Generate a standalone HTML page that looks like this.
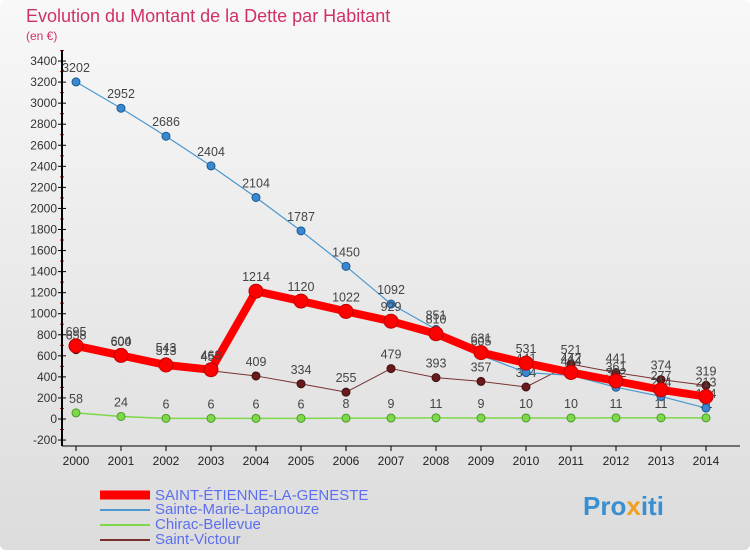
<!DOCTYPE html>
<html><head><meta charset="utf-8"><style>
body{margin:0;width:750px;height:550px;overflow:hidden;font-family:"Liberation Sans",sans-serif;}
</style></head><body>
<svg width="750" height="550" xmlns="http://www.w3.org/2000/svg">
<defs><linearGradient id="bg" x1="0" y1="0" x2="0" y2="1"><stop offset="0" stop-color="#f8f8f8"/><stop offset="1" stop-color="#dcdcdc"/></linearGradient></defs>
<rect width="750" height="550" fill="url(#bg)" rx="6"/>
<text x="26" y="22" font-size="18" fill="#d0306a">Evolution du Montant de la Dette par Habitant</text>
<text x="26" y="40" font-size="12" fill="#d0306a">(en €)</text>
<g id="axes"></g><g id="series"></g>
<g font-size="15">
<line x1="100" y1="495" x2="150" y2="495" stroke="#ff0000" stroke-width="9"/>
<text x="155" y="500" fill="#5b6ff0">SAINT-ÉTIENNE-LA-GENESTE</text>
<line x1="100" y1="510" x2="150" y2="510" stroke="#4a98d0" stroke-width="2"/>
<text x="155" y="514" fill="#5b6ff0">Sainte-Marie-Lapanouze</text>
<line x1="100" y1="525" x2="150" y2="525" stroke="#7ed84a" stroke-width="2"/>
<text x="155" y="529" fill="#5b6ff0">Chirac-Bellevue</text>
<line x1="100" y1="540" x2="150" y2="540" stroke="#7a3030" stroke-width="2"/>
<text x="155" y="544" fill="#5b6ff0">Saint-Victour</text>
</g>
<text x="583" y="515" font-size="26" font-weight="bold" fill="#3a8fd0">Pro<tspan fill="#f0a020">x</tspan>iti</text>
</svg>
<script>
const years=[2000,2001,2002,2003,2004,2005,2006,2007,2008,2009,2010,2011,2012,2013,2014];
const yTicks=[-200,0,200,400,600,800,1000,1200,1400,1600,1800,2000,2200,2400,2600,2800,3000,3200,3400];
const stEtienne=[695,604,513,468,1214,1120,1022,929,810,631,531,442,361,277,213];
const steMarie=[3202,2952,2686,2404,2104,1787,1450,1092,851,605,441,414,302,214,104];
const chirac=[58,24,6,6,6,6,8,9,11,9,10,10,11,11,11];
const stVictour=[658,600,543,458,409,334,255,479,393,357,304,521,441,374,319];
const NS="http://www.w3.org/2000/svg";
function X(i){return 76+i*45;}
function Y(v){return 419-v*0.10528;}
function mk(t,a,p){const e=document.createElementNS(NS,t);for(const k in a)e.setAttribute(k,a[k]);p.appendChild(e);return e;}
const ax=document.getElementById('axes');
yTicks.forEach(v=>{
 const t=mk('text',{x:57,y:Y(v)+4,'font-size':12,'text-anchor':'end',fill:'#333'},ax);t.textContent=v;
 
 
 mk('line',{x1:58,x2:66,y1:Y(v),y2:Y(v),stroke:'#000'},ax);
 mk('line',{x1:60,x2:64,y1:Y(v+100),y2:Y(v+100),stroke:'#e00000'},ax);
});
const ya=mk('line',{x1:62,x2:62,y1:50,y2:446,stroke:'#000','stroke-width':2},ax);


const xa=mk('line',{x1:62,x2:740,y1:446,y2:446,stroke:'#000','stroke-width':1},ax);


years.forEach((y,i)=>{
 mk('line',{x1:X(i),x2:X(i),y1:446,y2:451,stroke:'#000'},ax);
 const t=mk('text',{x:X(i),y:465,'font-size':12,'text-anchor':'middle',fill:'#222'},ax);t.textContent=y;
 
 
});
const sg=document.getElementById('series');
function draw(data,name,color,w,r,dot,stroke){
 const pts=data.map((v,i)=>X(i)+','+Y(v)).join(' ');
 const pl=mk('polyline',{points:pts,fill:'none',stroke:color,'stroke-width':w,'stroke-linejoin':'round'},sg);
 
 
 data.forEach((v,i)=>{
  const c=mk('circle',{cx:X(i),cy:Y(v),r:r,fill:dot,stroke:stroke,'stroke-width':1},sg);
  
  
  const t=mk('text',{x:X(i),y:Y(v)-10,'font-size':12.5,'text-anchor':'middle',fill:'#444'},sg);t.textContent=v;
  
  
 });
}
draw(chirac,'chirac','#7ed84a',1.5,4,'#7ed84a','#4a9a2a');
draw(stVictour,'saint-victour','#7a3030',1,4,'#6a1a1a','#401010');
draw(steMarie,'sainte-marie','#4a98d0',1.2,4,'#3a88d0','#1a5a90');
draw(stEtienne,'saint-etienne','#ff0000',8,7,'#ff0000','#c00000');
</script>
</body></html>
